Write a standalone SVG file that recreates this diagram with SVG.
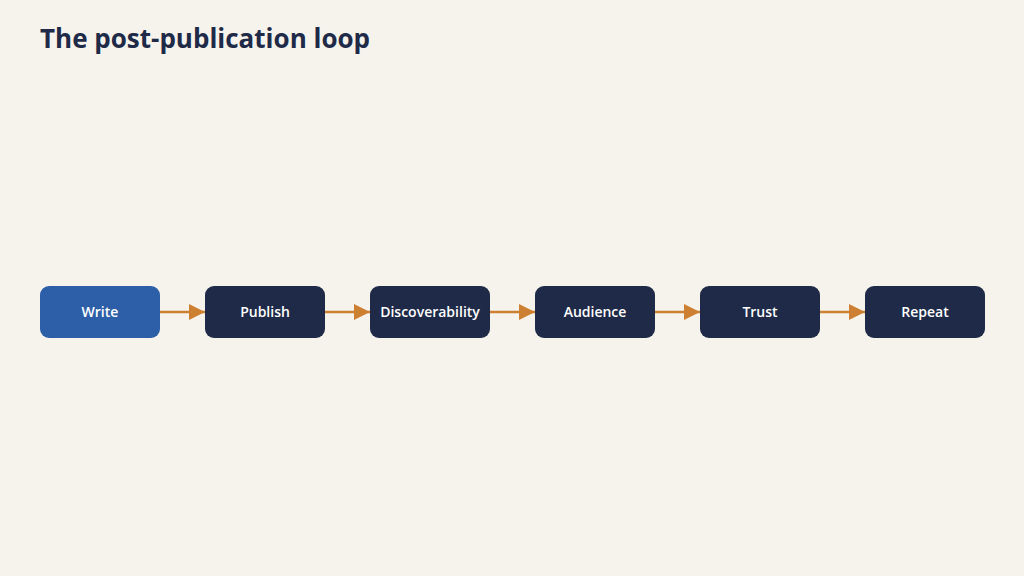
<svg xmlns="http://www.w3.org/2000/svg" width="1024" height="576" viewBox="0 0 1024 576">
<style>
.n{fill:#1e2a47}
.t{font-family:"Open Sans","Liberation Sans",sans-serif;font-size:14px;font-weight:600;fill:#ffffff;text-anchor:middle}
.c{stroke:#cd7f32;stroke-width:2.5;fill:none}
</style>
<defs><marker id="a" markerWidth="16" markerHeight="16" refX="16" refY="8" orient="auto" markerUnits="userSpaceOnUse"><path d="M0,0L16,8L0,16z" fill="#cd7f32"/></marker></defs>
<rect width="1024" height="576" fill="#f6f3ec"/>
<text x="40" y="48" font-family="'Open Sans','Liberation Sans',sans-serif" font-size="26" font-weight="700" fill="#1e2a47">The post-publication loop</text>
<g id="connectors">
<line class="c" x1="160" y1="312" x2="205" y2="312" marker-end="url(#a)"/>
<line class="c" x1="325" y1="312" x2="370" y2="312" marker-end="url(#a)"/>
<line class="c" x1="490" y1="312" x2="535" y2="312" marker-end="url(#a)"/>
<line class="c" x1="655" y1="312" x2="700" y2="312" marker-end="url(#a)"/>
<line class="c" x1="820" y1="312" x2="865" y2="312" marker-end="url(#a)"/>
</g>
<g id="write"><rect x="40" y="286" width="120" height="52" rx="9" fill="#2d5fa8"/><text class="t" x="100" y="317">Write</text></g>
<g id="publish"><rect class="n" x="205" y="286" width="120" height="52" rx="9"/><text class="t" x="265" y="317">Publish</text></g>
<g id="discoverability"><rect class="n" x="370" y="286" width="120" height="52" rx="9"/><text class="t" x="430" y="317">Discoverability</text></g>
<g id="audience"><rect class="n" x="535" y="286" width="120" height="52" rx="9"/><text class="t" x="595" y="317">Audience</text></g>
<g id="trust"><rect class="n" x="700" y="286" width="120" height="52" rx="9"/><text class="t" x="760" y="317">Trust</text></g>
<g id="repeat"><rect class="n" x="865" y="286" width="120" height="52" rx="9"/><text class="t" x="925" y="317">Repeat</text></g>
</svg>
